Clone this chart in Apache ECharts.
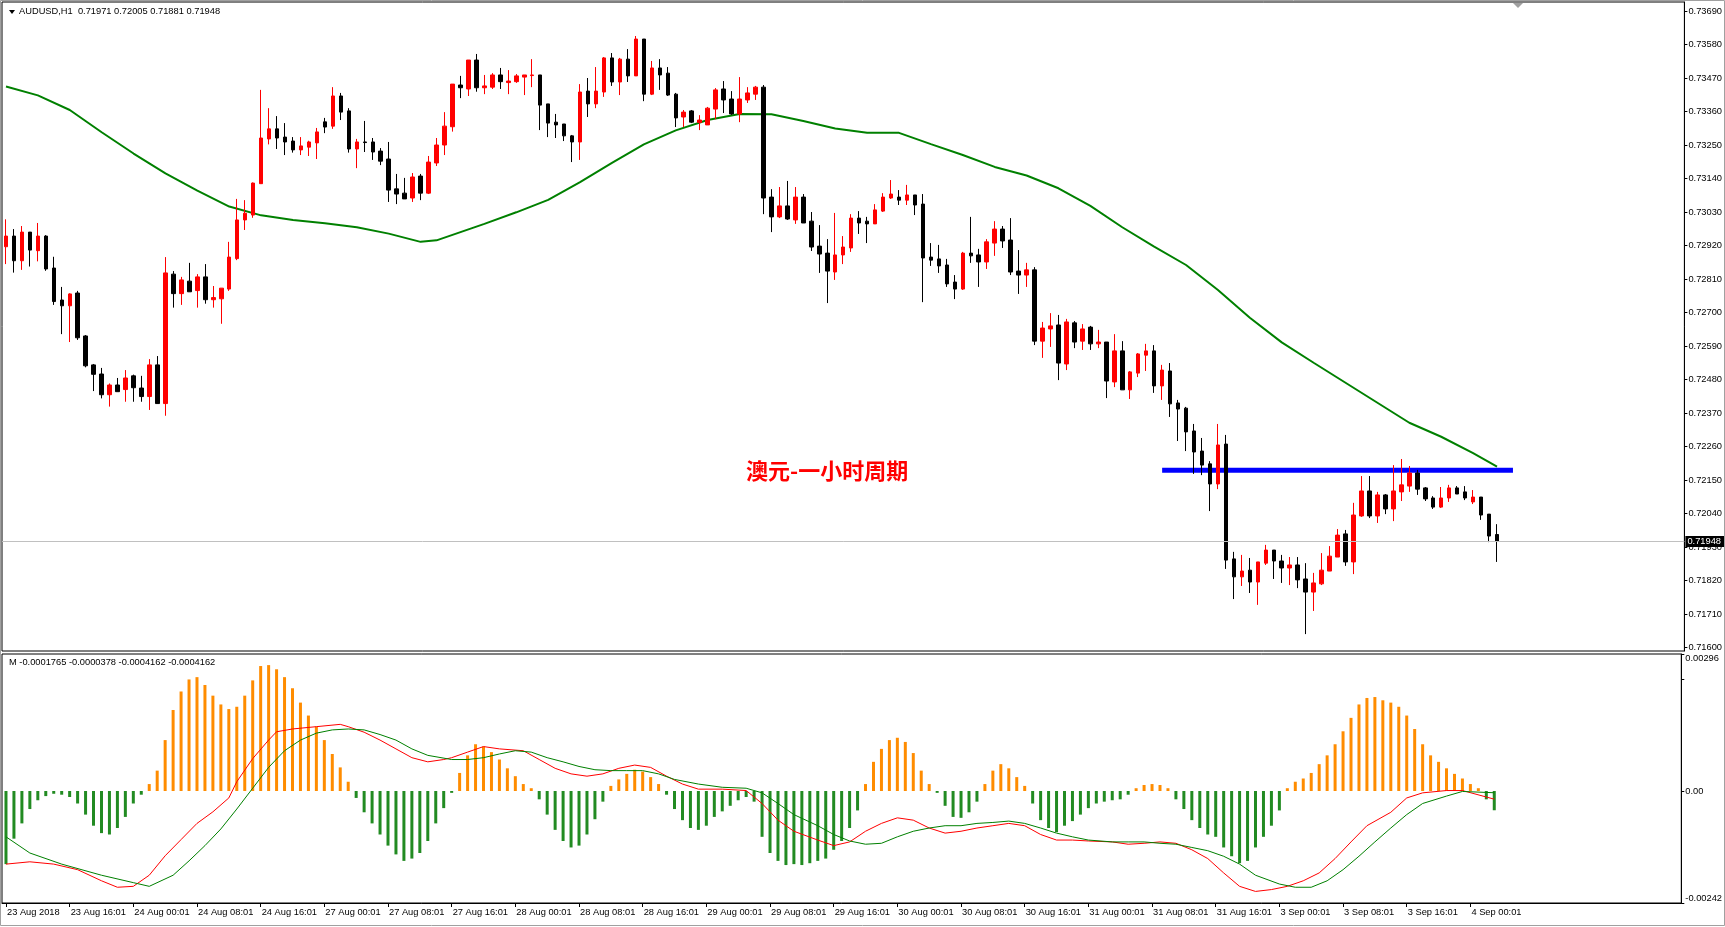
<!DOCTYPE html>
<html>
<head>
<meta charset="utf-8">
<title>AUDUSD H1</title>
<script src="https://cdn.jsdelivr.net/npm/echarts/dist/echarts.min.js"></script>
<style>
  html, body { margin: 0; padding: 0; background: #fff; }
  #main { width: 1725px; height: 927px; }
</style>
</head>
<body>
<div id="main"></div>
<script>
// candles: [open, high, low, close], one per hour
const candles = [
  [0.72916,0.73006,0.72859,0.72951],[0.72951,0.72974,0.72831,0.72870],[0.72870,0.72984,0.72840,0.72964],[0.72964,0.72964,0.72851,0.72905],
  [0.72903,0.72994,0.72868,0.72951],[0.72951,0.72954,0.72837,0.72843],[0.72846,0.72883,0.72725,0.72736],[0.72741,0.72784,0.72629,0.72722],
  [0.72722,0.72763,0.72603,0.72761],[0.72764,0.72771,0.72610,0.72617],[0.72623,0.72626,0.72520,0.72525],[0.72528,0.72531,0.72442,0.72497],
  [0.72498,0.72518,0.72418,0.72430],[0.72430,0.72467,0.72391,0.72462],[0.72462,0.72485,0.72440,0.72440],[0.72447,0.72511,0.72407,0.72485],
  [0.72492,0.72496,0.72407,0.72453],[0.72452,0.72492,0.72407,0.72424],[0.72424,0.72547,0.72380,0.72528],[0.72528,0.72557,0.72401,0.72401],
  [0.72401,0.72882,0.72361,0.72830],[0.72826,0.72836,0.72716,0.72762],[0.72762,0.72817,0.72725,0.72807],[0.72803,0.72863,0.72768,0.72768],
  [0.72772,0.72826,0.72716,0.72817],[0.72817,0.72859,0.72729,0.72742],[0.72742,0.72787,0.72716,0.72749],[0.72745,0.72780,0.72663,0.72780],
  [0.72777,0.72932,0.72771,0.72882],[0.72877,0.73073,0.72872,0.73004],[0.73004,0.73069,0.72971,0.73026],[0.73020,0.73127,0.73011,0.73125],
  [0.73123,0.73431,0.73123,0.73273],[0.73270,0.73371,0.73252,0.73303],[0.73303,0.73345,0.73237,0.73273],[0.73276,0.73322,0.73217,0.73260],
  [0.73263,0.73276,0.73225,0.73234],[0.73234,0.73276,0.73217,0.73247],[0.73243,0.73264,0.73214,0.73260],[0.73257,0.73306,0.73204,0.73293],
  [0.73326,0.73339,0.73289,0.73309],[0.73312,0.73440,0.73303,0.73411],[0.73411,0.73421,0.73332,0.73358],[0.73362,0.73371,0.73225,0.73237],
  [0.73237,0.73270,0.73174,0.73260],[0.73260,0.73329,0.73227,0.73258],[0.73260,0.73273,0.73201,0.73227],[0.73230,0.73240,0.73184,0.73197],
  [0.73204,0.73260,0.73063,0.73102],[0.73106,0.73155,0.73056,0.73089],[0.73092,0.73142,0.73073,0.73073],[0.73076,0.73158,0.73063,0.73145],
  [0.73148,0.73155,0.73069,0.73092],[0.73092,0.73214,0.73089,0.73194],[0.73191,0.73273,0.73181,0.73250],[0.73250,0.73358,0.73217,0.73312],
  [0.73310,0.73450,0.73294,0.73450],[0.73447,0.73477,0.73404,0.73438],[0.73434,0.73529,0.73411,0.73529],[0.73529,0.73549,0.73425,0.73438],
  [0.73438,0.73480,0.73417,0.73444],[0.73440,0.73486,0.73434,0.73480],[0.73480,0.73503,0.73434,0.73458],[0.73455,0.73496,0.73417,0.73460],
  [0.73458,0.73483,0.73454,0.73477],[0.73473,0.73480,0.73414,0.73480],[0.73478,0.73532,0.73440,0.73480],[0.73480,0.73480,0.73299,0.73381],
  [0.73385,0.73385,0.73276,0.73322],[0.73325,0.73352,0.73273,0.73316],[0.73319,0.73319,0.73263,0.73280],[0.73280,0.73283,0.73194,0.73260],
  [0.73260,0.73450,0.73201,0.73424],[0.73427,0.73470,0.73342,0.73385],[0.73385,0.73506,0.73371,0.73427],[0.73424,0.73539,0.73408,0.73536],
  [0.73536,0.73552,0.73444,0.73457],[0.73457,0.73536,0.73414,0.73532],[0.73532,0.73565,0.73457,0.73477],[0.73477,0.73608,0.73477,0.73598],
  [0.73598,0.73598,0.73394,0.73417],[0.73417,0.73526,0.73414,0.73503],[0.73503,0.73532,0.73431,0.73480],[0.73486,0.73506,0.73411,0.73414],
  [0.73417,0.73421,0.73309,0.73339],[0.73342,0.73365,0.73309,0.73358],[0.73362,0.73365,0.73322,0.73325],[0.73324,0.73348,0.73299,0.73332],
  [0.73316,0.73375,0.73316,0.73371],[0.73368,0.73437,0.73335,0.73431],[0.73434,0.73460,0.73355,0.73398],[0.73401,0.73427,0.73349,0.73352],
  [0.73352,0.73473,0.73325,0.73401],[0.73398,0.73440,0.73388,0.73421],[0.73417,0.73444,0.73398,0.73440],[0.73440,0.73447,0.73023,0.73076],
  [0.73079,0.73105,0.72964,0.73014],[0.73014,0.73112,0.73010,0.73050],[0.73050,0.73132,0.73004,0.73007],[0.73004,0.73112,0.72991,0.73079],
  [0.73079,0.73089,0.72994,0.72994],[0.73000,0.73030,0.72902,0.72915],[0.72918,0.72987,0.72830,0.72892],[0.72895,0.72941,0.72731,0.72836],
  [0.72833,0.73027,0.72807,0.72889],[0.72889,0.72951,0.72859,0.72915],[0.72912,0.73023,0.72899,0.73010],[0.73010,0.73033,0.72958,0.72994],
  [0.73000,0.73014,0.72928,0.72991],[0.72991,0.73056,0.72991,0.73037],[0.73033,0.73092,0.73030,0.73079],[0.73076,0.73135,0.73073,0.73089],
  [0.73079,0.73102,0.73053,0.73069],[0.73069,0.73119,0.73053,0.73086],[0.73086,0.73086,0.73020,0.73053],[0.73056,0.73089,0.72734,0.72879],
  [0.72882,0.72928,0.72853,0.72872],[0.72876,0.72922,0.72830,0.72853],[0.72856,0.72876,0.72784,0.72794],[0.72800,0.72823,0.72744,0.72777],
  [0.72777,0.72899,0.72774,0.72895],[0.72895,0.73014,0.72863,0.72886],[0.72889,0.72909,0.72784,0.72866],[0.72866,0.72941,0.72843,0.72932],
  [0.72928,0.73000,0.72886,0.72974],[0.72974,0.72984,0.72912,0.72935],[0.72938,0.73010,0.72823,0.72833],[0.72836,0.72905,0.72761,0.72823],
  [0.72823,0.72863,0.72784,0.72840],[0.72840,0.72849,0.72593,0.72606],[0.72606,0.72669,0.72551,0.72649],[0.72646,0.72698,0.72587,0.72656],
  [0.72659,0.72692,0.72478,0.72534],[0.72531,0.72679,0.72511,0.72669],[0.72666,0.72672,0.72583,0.72603],[0.72606,0.72662,0.72577,0.72646],
  [0.72652,0.72656,0.72577,0.72597],[0.72597,0.72643,0.72583,0.72603],[0.72603,0.72603,0.72419,0.72475],[0.72472,0.72629,0.72455,0.72574],
  [0.72574,0.72606,0.72446,0.72446],[0.72446,0.72508,0.72416,0.72505],[0.72501,0.72567,0.72488,0.72564],[0.72560,0.72597,0.72508,0.72574],
  [0.72574,0.72593,0.72436,0.72459],[0.72459,0.72528,0.72413,0.72511],[0.72508,0.72534,0.72357,0.72400],[0.72403,0.72413,0.72278,0.72383],
  [0.72386,0.72390,0.72245,0.72308],[0.72311,0.72334,0.72170,0.72242],[0.72245,0.72288,0.72166,0.72199],[0.72203,0.72212,0.72048,0.72137],
  [0.72137,0.72334,0.72120,0.72265],[0.72268,0.72298,0.71858,0.71887],[0.71891,0.71914,0.71759,0.71832],[0.71832,0.71904,0.71802,0.71851],
  [0.71854,0.71894,0.71779,0.71815],[0.71815,0.71881,0.71740,0.71881],[0.71877,0.71937,0.71871,0.71920],[0.71920,0.71920,0.71825,0.71884],
  [0.71884,0.71904,0.71812,0.71861],[0.71861,0.71897,0.71805,0.71871],[0.71871,0.71897,0.71795,0.71822],[0.71825,0.71877,0.71644,0.71782],
  [0.71782,0.71845,0.71720,0.71812],[0.71809,0.71910,0.71805,0.71854],[0.71851,0.71933,0.71851,0.71900],[0.71897,0.71989,0.71897,0.71969],
  [0.71973,0.71986,0.71868,0.71881],[0.71881,0.72075,0.71841,0.72035],[0.72032,0.72163,0.72029,0.72114],[0.72114,0.72163,0.72025,0.72032],
  [0.72032,0.72111,0.72009,0.72101],[0.72101,0.72104,0.72038,0.72055],[0.72055,0.72199,0.72015,0.72114],[0.72111,0.72219,0.72081,0.72134],
  [0.72130,0.72196,0.72111,0.72173],[0.72173,0.72183,0.72101,0.72120],[0.72124,0.72127,0.72081,0.72088],[0.72091,0.72097,0.72055,0.72061],
  [0.72061,0.72127,0.72058,0.72091],[0.72091,0.72134,0.72078,0.72124],[0.72124,0.72130,0.72104,0.72104],[0.72111,0.72130,0.72084,0.72091],
  [0.72078,0.72117,0.72071,0.72094],[0.72094,0.72094,0.72019,0.72035],[0.72038,0.72038,0.71946,0.71966],[0.71971,0.72005,0.71881,0.71948]
];

// moving average: [bar, value]
const maLine = [
  [0,0.73442],[4,0.73413],[8,0.73365],[12,0.73292],[16,0.73222],[20,0.73157],[24,0.73100],[28,0.73048],
  [32,0.73019],[36,0.73004],[40,0.72993],[44,0.72980],[48,0.72959],[52,0.72932],[54,0.72937],[56,0.72955],
  [60,0.72991],[64,0.73029],[68,0.73070],[72,0.73128],[76,0.73191],[80,0.73252],[84,0.73298],[88,0.73332],
  [92,0.73352],[96,0.73351],[100,0.73329],[104,0.73304],[108,0.73290],[112,0.73290],[116,0.73253],[120,0.73217],
  [124,0.73178],[128,0.73150],[132,0.73108],[136,0.73050],[140,0.72980],[144,0.72916],[148,0.72856],[152,0.72774],
  [156,0.72683],[160,0.72602],[164,0.72535],[176,0.72338],[180,0.72292],[184,0.72238],[187,0.72194]
];

// horizontal level (blue)
const levelLine = [[145, 0.72182], [189, 0.72182]];
const lastPrice = 0.71948;

// MACD histogram, one per bar
const macdHist = [
  -0.00158,-0.00103,-0.00070,-0.00039,-0.00020,-0.00011,-0.00006,-0.00008,-0.00013,-0.00027,
  -0.00051,-0.00075,-0.00091,-0.00094,-0.00080,-0.00056,-0.00027,-0.00008,0.00015,0.00044,
  0.00110,0.00175,0.00215,0.00241,0.00246,0.00229,0.00206,0.00187,0.00177,0.00182,
  0.00206,0.00239,0.00270,0.00272,0.00263,0.00246,0.00222,0.00191,0.00163,0.00139,
  0.00110,0.00080,0.00051,0.00020,-0.00015,-0.00046,-0.00070,-0.00094,-0.00118,-0.00137,
  -0.00151,-0.00146,-0.00134,-0.00108,-0.00070,-0.00037,-0.00004,0.00039,0.00077,0.00101,
  0.00096,0.00084,0.00068,0.00049,0.00032,0.00015,0.00006,-0.00018,-0.00051,-0.00084,
  -0.00108,-0.00122,-0.00118,-0.00094,-0.00061,-0.00023,0.00011,0.00025,0.00037,0.00046,
  0.00042,0.00030,0.00015,-0.00008,-0.00039,-0.00063,-0.00080,-0.00084,-0.00075,-0.00056,
  -0.00044,-0.00032,-0.00020,-0.00013,-0.00023,-0.00099,-0.00134,-0.00151,-0.00160,-0.00158,
  -0.00160,-0.00156,-0.00151,-0.00146,-0.00127,-0.00108,-0.00080,-0.00042,0.00015,0.00063,
  0.00091,0.00110,0.00115,0.00106,0.00082,0.00044,0.00015,-0.00004,-0.00032,-0.00056,
  -0.00058,-0.00046,-0.00023,0.00015,0.00044,0.00058,0.00049,0.00030,0.00011,-0.00027,
  -0.00063,-0.00080,-0.00089,-0.00075,-0.00065,-0.00051,-0.00037,-0.00027,-0.00023,-0.00020,
  -0.00018,-0.00008,0.00006,0.00013,0.00015,0.00013,0.00006,-0.00018,-0.00039,-0.00063,
  -0.00080,-0.00094,-0.00099,-0.00122,-0.00141,-0.00156,-0.00151,-0.00122,-0.00099,-0.00075,
  -0.00042,0.00006,0.00020,0.00027,0.00039,0.00058,0.00077,0.00101,0.00129,0.00158,
  0.00187,0.00201,0.00203,0.00196,0.00191,0.00182,0.00163,0.00134,0.00101,0.00077,
  0.00063,0.00049,0.00037,0.00027,0.00015,0.00006,-0.00018,-0.0004162
];

// MACD fast line (red) and signal line (green): [bar, value]
const macdFast = [
  [0,-0.00158],[3,-0.00153],[6,-0.00158],[9,-0.00170],[12,-0.00194],[14,-0.00208],[16,-0.00206],[18,-0.00182],
  [20,-0.00140],[22,-0.00105],[24,-0.00070],[26,-0.00045],[28,-0.00015],[29,0.00020],[31,0.00070],[33,0.00110],
  [34,0.00128],[36,0.00134],[39,0.00139],[42,0.00144],[43,0.00139],[45,0.00127],[47,0.00110],
  [49,0.00091],[51,0.00072],[53,0.00063],[55,0.00068],[56,0.00072],[58,0.00084],[60,0.00096],[62,0.00091],
  [65,0.00087],[67,0.00068],[69,0.00049],[71,0.00037],[73,0.00032],[75,0.00037],[77,0.00049],[79,0.00056],
  [81,0.00051],[83,0.00032],[85,0.00015],[87,0.00004],[90,0.00004],[93,0.00001],[95,-0.00027],[97,-0.00063],
  [99,-0.00087],[102,-0.00106],[104,-0.00118],[106,-0.00110],[108,-0.00087],[110,-0.00070],[112,-0.00058],[114,-0.00063],
  [116,-0.00080],[118,-0.00091],[120,-0.00087],[122,-0.00080],[124,-0.00075],[126,-0.00070],[128,-0.00075],[130,-0.00094],
  [132,-0.00106],[134,-0.00106],[136,-0.00108],[139,-0.00110],[141,-0.00115],[143,-0.00113],[145,-0.00110],[147,-0.00113],
  [149,-0.00127],[151,-0.00146],[153,-0.00177],[155,-0.00206],[157,-0.00217],[159,-0.00213],[161,-0.00206],[163,-0.00194],
  [165,-0.00177],[167,-0.00146],[169,-0.00110],[171,-0.00075],[174,-0.00046],[176,-0.00015],[178,-0.00004],[181,0.00001],
  [183,0.00001],[187,-0.0001765]
];
const macdSignal = [
  [0,-0.00099],[3,-0.00134],[7,-0.00158],[12,-0.00182],[16,-0.00198],[18,-0.00206],[21,-0.00182],[23,-0.00151],
  [25,-0.00118],[27,-0.00082],[29,-0.00039],[31,0.00006],[33,0.00051],[35,0.00087],[37,0.00110],[39,0.00125],
  [41,0.00132],[43,0.00134],[45,0.00132],[47,0.00122],[49,0.00110],[51,0.00091],[53,0.00077],[56,0.00068],
  [58,0.00068],[60,0.00072],[62,0.00080],[64,0.00087],[66,0.00084],[68,0.00072],[70,0.00063],[72,0.00053],
  [74,0.00046],[76,0.00044],[78,0.00044],[80,0.00044],[82,0.00037],[84,0.00025],[87,0.00015],[90,0.00008],
  [93,0.00006],[95,-0.00004],[97,-0.00027],[99,-0.00051],[102,-0.00075],[104,-0.00094],[106,-0.00108],[108,-0.00115],
  [110,-0.00113],[112,-0.00099],[114,-0.00087],[116,-0.00080],[118,-0.00075],[120,-0.00075],[122,-0.00070],[124,-0.00068],
  [126,-0.00065],[128,-0.00070],[130,-0.00080],[132,-0.00091],[134,-0.00099],[136,-0.00106],[139,-0.00110],[141,-0.00110],
  [143,-0.00110],[145,-0.00113],[147,-0.00115],[149,-0.00122],[151,-0.00129],[153,-0.00141],[155,-0.00158],[157,-0.00182],
  [160,-0.00201],[162,-0.00208],[164,-0.00208],[166,-0.00194],[168,-0.00170],[170,-0.00141],[172,-0.00110],[174,-0.00080],
  [176,-0.00051],[178,-0.00027],[181,-0.00011],[183,-0.00001],[187,-0.0000378]
];

// axis labels
const timeLabels = [
  '23 Aug 2018','23 Aug 16:01','24 Aug 00:01','24 Aug 08:01','24 Aug 16:01','27 Aug 00:01',
  '27 Aug 08:01','27 Aug 16:01','28 Aug 00:01','28 Aug 08:01','28 Aug 16:01','29 Aug 00:01',
  '29 Aug 08:01','29 Aug 16:01','30 Aug 00:01','30 Aug 08:01','30 Aug 16:01','31 Aug 00:01',
  '31 Aug 08:01','31 Aug 16:01','3 Sep 00:01','3 Sep 08:01','3 Sep 16:01','4 Sep 00:01'
];
const priceTicks = [0.7160,0.7171,0.7182,0.7193,0.7204,0.7215,0.7226,0.7237,0.7248,0.7259,
  0.7270,0.7281,0.7292,0.7303,0.7314,0.7325,0.7336,0.7347,0.7358,0.7369];
const macdMin = -0.00242;
const macdMax = 0.00296;

// 188 bars plus empty room on the right (chart shift)
const slotCount = 211;
const slots = [];
for (let i = 0; i < slotCount; i++) slots.push(String(i));

const showEvery8 = function (index) {
  return index % 8 === 0 && index / 8 < timeLabels.length;
};

const font = 'Liberation Sans';
const myChart = echarts.init(document.getElementById('main'));

const option = {
  animation: false,
  backgroundColor: '#fff',
  textStyle: { fontFamily: font },
  title: [
    { text: 'AUDUSD,H1  0.71971 0.72005 0.71881 0.71948', left: 19, top: 7, padding: 0,
      textStyle: { fontSize: 9.3, fontWeight: 'normal', color: '#000', fontFamily: font } },
    { text: 'M -0.0001765 -0.0000378 -0.0004162 -0.0004162', left: 9, top: 658, padding: 0,
      textStyle: { fontSize: 9.3, fontWeight: 'normal', color: '#000', fontFamily: font } }
  ],
  grid: [
    { left: 2, right: 36, top: 2, height: 649, show: true, borderColor: '#000', borderWidth: 1, backgroundColor: 'transparent' },
    { left: 2, right: 36, top: 654, height: 249, show: true, borderColor: '#000', borderWidth: 1, backgroundColor: 'transparent' }
  ],
  xAxis: [
    { type: 'category', gridIndex: 0, data: slots, boundaryGap: true,
      axisLine: { show: false, onZero: false }, axisTick: { show: false }, axisLabel: { show: false }, splitLine: { show: false } },
    { type: 'category', gridIndex: 1, data: slots, boundaryGap: true, position: 'bottom',
      axisLine: { show: true, onZero: false, lineStyle: { color: '#000' } },
      axisTick: { show: true, alignWithLabel: true, interval: showEvery8, length: 4, lineStyle: { color: '#000' } },
      axisLabel: { show: true, interval: showEvery8, align: 'left', margin: 5, padding: [0, 0, 0, 1],
        fontSize: 9.3, color: '#000', fontFamily: font,
        formatter: function (v, index) { return timeLabels[index / 8] || ''; } },
      splitLine: { show: false } }
  ],
  yAxis: [
    { type: 'value', gridIndex: 0, position: 'right', min: 0.715885, max: 0.737196, scale: true,
      axisLine: { show: true, onZero: false, lineStyle: { color: '#000' } },
      axisTick: { show: true, length: 3, customValues: priceTicks, lineStyle: { color: '#000' } },
      axisLabel: { show: true, customValues: priceTicks, margin: 4, fontSize: 9.3, color: '#000', fontFamily: font,
        formatter: function (v) { return v.toFixed(5); } },
      splitLine: { show: false } },
    { type: 'value', gridIndex: 1, position: 'right', min: macdMin, max: macdMax, interval: 0.00242,
      axisLine: { show: true, onZero: false, lineStyle: { color: '#000' } },
      axisTick: { show: true, length: 3, lineStyle: { color: '#000' } },
      axisLabel: { show: true, showMinLabel: true, showMaxLabel: true, margin: 4, fontSize: 9.3, color: '#000', fontFamily: font,
        verticalAlignMinLabel: 'bottom', verticalAlignMaxLabel: 'top',
        formatter: function (v) {
          if (Math.abs(v) < 1e-9) return '0.00';
          if (Math.abs(v - macdMin) < 1e-9 || Math.abs(v - macdMax) < 1e-9) return v.toFixed(5);
          return '';
        } },
      splitLine: { show: false }, splitArea: { show: false }, minorSplitLine: { show: false } }
  ],
  graphic: [
    { type: 'rect', silent: true, shape: { x: 0.5, y: 0.5, width: 1724, height: 925 },
      style: { fill: 'none', stroke: '#a0a0a0', lineWidth: 1 } },
    { type: 'polygon', silent: true, shape: { points: [[9, 10], [15, 10], [12, 14]] }, style: { fill: '#000' } },
    { type: 'polygon', silent: true, shape: { points: [[1513, 3], [1523, 3], [1518, 8]] }, style: { fill: '#a0a0a0' } },
    { type: 'text', silent: true, left: 746, top: 460, z: 10,
      style: { text: '澳元-一小时周期', fill: '#ff0000', fontSize: 22, fontWeight: 'bold', fontFamily: 'Noto Sans CJK SC' } }
  ],
  series: [
    {
      name: 'level', type: 'line', xAxisIndex: 0, yAxisIndex: 0, data: levelLine,
      showSymbol: false, symbol: 'none', z: 1,
      lineStyle: { color: '#0000ff', width: 5 },
      markLine: {
        silent: true, symbol: ['none', 'none'], animation: false, precision: 5,
        data: [{ yAxis: lastPrice }],
        lineStyle: { color: '#c0c0c0', width: 1, type: 'solid' },
        label: { show: true, position: 'end', distance: 1, formatter: '0.71948',
          backgroundColor: '#000', color: '#fff', padding: [1, 3, 1, 2], fontSize: 9.3, fontFamily: font }
      }
    },
    {
      name: 'AUDUSD', type: 'candlestick', xAxisIndex: 0, yAxisIndex: 0, z: 3,
      barWidth: 4,
      data: candles.map(function (c) { return [c[0], c[3], c[2], c[1]]; }),
      itemStyle: { color: '#ff0000', color0: '#000000', borderColor: '#ff0000', borderColor0: '#000000', borderWidth: 1 }
    },
    {
      name: 'MA', type: 'line', xAxisIndex: 0, yAxisIndex: 0, data: maLine,
      showSymbol: false, symbol: 'none', z: 2,
      lineStyle: { color: '#008000', width: 2 }
    },
    {
      name: 'hist', type: 'bar', xAxisIndex: 1, yAxisIndex: 1, barWidth: 3,
      data: macdHist,
      itemStyle: {
        borderWidth: 0,
        color: function (p) { return p.value >= 0 ? '#ff8c00' : '#228b22'; }
      }
    },
    {
      name: 'fast', type: 'line', xAxisIndex: 1, yAxisIndex: 1, data: macdFast,
      showSymbol: false, symbol: 'none', z: 4,
      lineStyle: { color: '#ff0000', width: 1 }
    },
    {
      name: 'signal', type: 'line', xAxisIndex: 1, yAxisIndex: 1, data: macdSignal,
      showSymbol: false, symbol: 'none', z: 4,
      lineStyle: { color: '#008000', width: 1 }
    }
  ]
};

myChart.setOption(option);
window.addEventListener('resize', function () {
  myChart.resize();
});
</script>
</body>
</html>
